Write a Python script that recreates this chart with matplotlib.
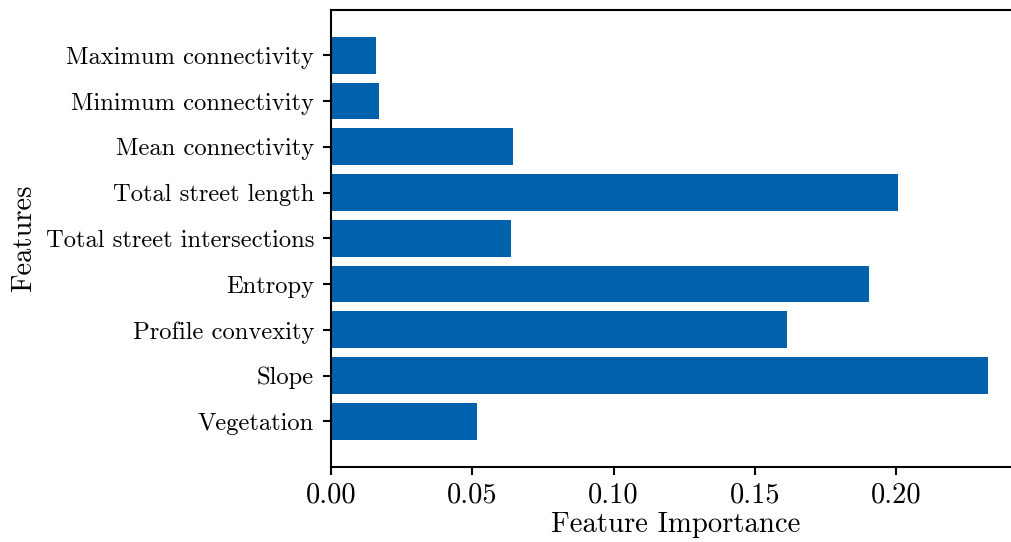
import matplotlib
matplotlib.use('Agg')
import matplotlib.pyplot as plt

plt.rcParams['font.family'] = 'cmr10'
plt.rcParams['mathtext.fontset'] = 'cm'
plt.rcParams['axes.formatter.use_mathtext'] = True

features = ['Vegetation', 'Slope', 'Profile convexity', 'Entropy',
            'Total street intersections', 'Total street length',
            'Mean connectivity', 'Minimum connectivity', 'Maximum connectivity']
importances = [0.0517, 0.2324, 0.1614, 0.1903, 0.0637, 0.2004, 0.0643, 0.0169, 0.0160]

fig = plt.figure(figsize=(10.11, 5.42), dpi=100)
# axes runs past the right edge of the figure, as in the cropped original
ax = fig.add_axes([330.7 / 1011, 75 / 542, 690.3 / 1011, 457.5 / 542])
ax.barh(features, importances, height=0.8, color='#0061AD')
ax.set_ylim(-1, 9)
ax.set_xlim(0, max(importances) * 1.05)
ax.set_xticks([0.0, 0.05, 0.10, 0.15, 0.20])
ax.set_xticklabels(['0.00', '0.05', '0.10', '0.15', '0.20'])

for s in ax.spines.values():
    s.set_linewidth(1.5)
ax.tick_params(axis='both', length=6, width=1.5)
ax.tick_params(axis='x', labelsize=20.5, pad=5)
ax.tick_params(axis='y', labelsize=17.7, pad=6)
ax.set_xlabel('Feature Importance', fontsize=20.7, labelpad=2)
ax.set_ylabel('Features', fontsize=20.5, labelpad=6)

fig.savefig('out.png', dpi=100)
